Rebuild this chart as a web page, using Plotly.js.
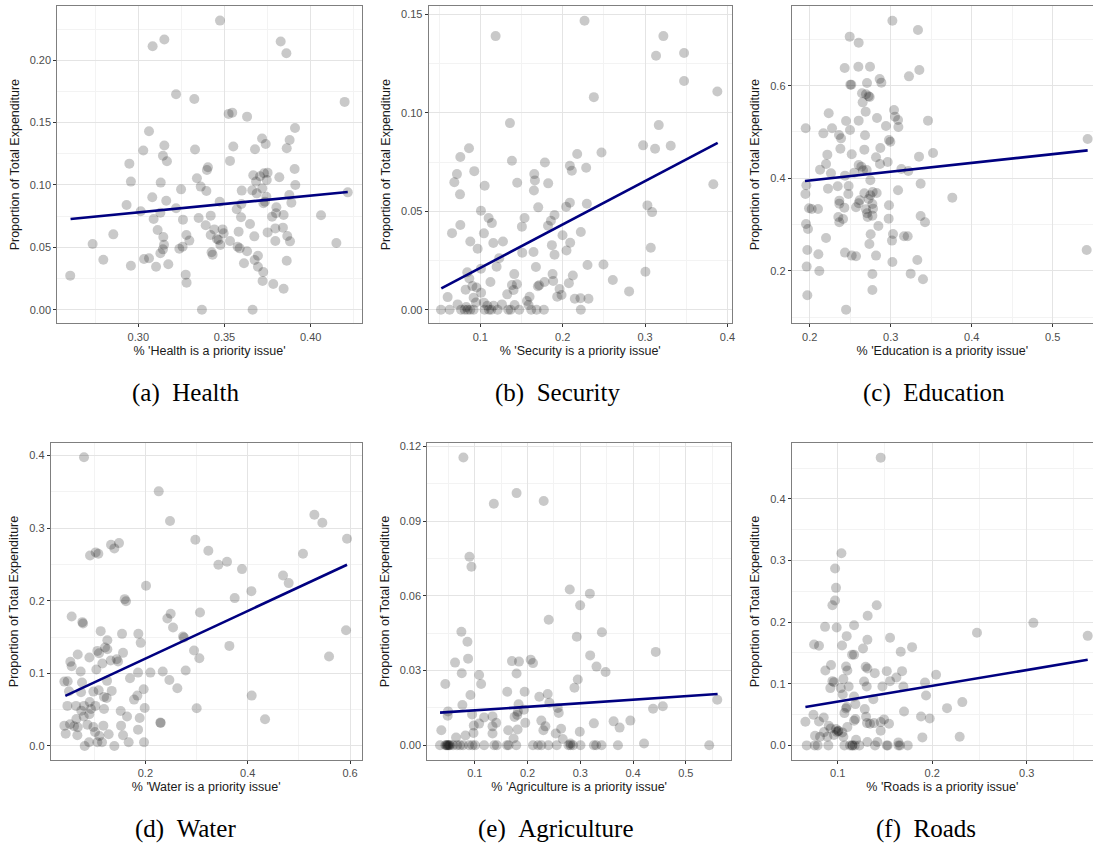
<!DOCTYPE html>
<html>
<head>
<meta charset="utf-8">
<script src="https://cdn.plot.ly/plotly-3.0.1.min.js"></script>
<style>html,body{margin:0;padding:0;background:#fff;}#chart{width:1093px;height:845px;}</style>
</head>
<body>
<div id="chart"></div>
<script>
// ---------- Health ----------
const healthX = [
0.3474,0.3083,0.3151,0.3826,0.3859,0.3219,0.3325,0.3524,0.3545,0.3631,
0.4197,0.3062,0.3909,0.3718,0.3878,0.3739,0.3151,0.3551,0.3677,0.3861,
0.3329,0.3029,0.3143,0.3166,0.3532,0.2948,0.3404,0.3398,0.3907,0.3667,
0.3706,0.3729,0.3750,0.3683,0.3745,0.3818,0.2957,0.3130,0.3340,0.3362,
0.3395,0.3248,0.3600,0.3661,0.3719,0.3911,0.3687,0.3876,0.3743,0.3735,
0.3726,0.3888,0.4215,0.2932,0.3081,0.3162,0.3472,0.3598,0.3571,0.3014,
0.3219,0.3128,0.3089,0.3259,0.3350,0.3420,0.3596,0.3776,0.3801,0.3799,
0.3843,0.4060,0.3648,0.3750,0.3795,0.3839,0.2855,0.3112,0.3279,0.3391,
0.3441,0.3489,0.3495,0.3420,0.3582,0.3864,0.3880,0.3145,0.2735,0.3149,
0.3296,0.3257,0.3238,0.3456,0.3476,0.3466,0.3532,0.3576,0.3588,0.3631,0.3673,
0.3795,0.4149,0.3143,0.3128,0.2797,0.3033,0.3062,0.2957,0.3103,0.3174,
0.3425,0.3431,0.3613,0.3675,0.3694,0.3694,0.3725,0.3721,0.3861,0.3275,
0.3280,0.3783,0.3843,0.2605,0.3369,0.3663];
const healthY = [
0.2318,0.2112,0.2166,0.2150,0.2056,0.1727,0.1690,0.1570,0.1580,0.1548,
0.1666,0.1431,0.1457,0.1372,0.1361,0.1329,0.1316,0.1308,0.1286,0.1294,
0.1284,0.1276,0.1235,0.1190,0.1193,0.1171,0.1142,0.1120,0.1128,0.1078,
0.1070,0.1094,0.1099,0.1027,0.1040,0.1062,0.1027,0.1019,0.1054,0.0987,
0.0952,0.0965,0.0955,0.0957,0.0973,0.1000,0.0933,0.0920,0.0906,0.0866,
0.0853,0.0858,0.0941,0.0840,0.0901,0.0874,0.0866,0.0848,0.0805,0.0789,
0.0813,0.0778,0.0727,0.0722,0.0735,0.0754,0.0741,0.0746,0.0821,0.0773,
0.0759,0.0757,0.0687,0.0620,0.0652,0.0658,0.0604,0.0639,0.0599,0.0677,
0.0644,0.0644,0.0612,0.0599,0.0626,0.0591,0.0548,0.0583,0.0527,0.0521,
0.0554,0.0505,0.0489,0.0567,0.0519,0.0559,0.0551,0.0505,0.0492,0.0468,0.0588,
0.0551,0.0535,0.0484,0.0452,0.0401,0.0406,0.0412,0.0353,0.0345,0.0364,
0.0460,0.0441,0.0372,0.0398,0.0433,0.0345,0.0302,0.0230,0.0393,0.0281,
0.0217,0.0206,0.0168,0.0273,0.0000,0.0000];
const healthFitX = [0.2607, 0.4215];
const healthFitY = [0.0727, 0.0944];

// ---------- Security ----------
const securityX = [
0.2265,0.1186,0.3222,0.3133,0.3473,0.3473,0.3877,0.2378,0.1360,
0.3166,0.2976,0.3121,0.3311,0.0863,0.0758,0.2471,0.2176,0.0717,0.0685,
0.0927,0.1384,0.1784,0.2087,0.2111,0.2285,0.1053,0.1448,0.1655,0.1663,
0.1651,0.1824,0.0754,0.3828,0.1008,0.1703,0.2087,0.2042,0.2293,0.3028,
0.3085,0.0657,0.0758,0.1101,0.1141,0.1044,0.1158,0.1275,0.0879,0.0968,
0.1537,0.1505,0.1822,0.1857,0.1901,0.1998,0.2091,0.2220,0.1869,0.1901,
0.2046,0.1509,0.1646,0.1675,0.1230,0.1198,0.1008,0.0842,0.3069,0.2301,
0.2495,0.3004,0.0867,0.0822,0.0905,0.0954,0.1010,0.1123,0.1412,0.1384,
0.1444,0.1404,0.1327,0.1715,0.1699,0.1780,0.1877,0.1885,0.1962,0.1986,
0.1933,0.2075,0.2123,0.2147,0.2216,0.2313,0.2608,0.2806,0.0604,0.0725,
0.0830,0.0919,0.0947,0.1044,0.1085,0.1162,0.1263,0.1586,0.1598,0.1566,0.1416,
0.0523,0.0628,0.0766,0.0810,0.0846,0.0879,0.0919,0.1053,0.1105,0.1133,
0.1210,0.1339,0.1368,0.1473,0.1618,0.1683,0.1772,0.2220];
const securityY = [
0.1468,0.1390,0.1390,0.1290,0.1304,0.1162,0.1109,0.1080,0.0948,
0.0938,0.0835,0.0818,0.0833,0.0820,0.0776,0.0799,0.0791,0.0689,0.0648,
0.0704,0.0757,0.0748,0.0731,0.0706,0.0721,0.0630,0.0645,0.0689,0.0657,
0.0606,0.0642,0.0586,0.0637,0.0503,0.0520,0.0544,0.0523,0.0538,0.0530,
0.0496,0.0389,0.0430,0.0466,0.0440,0.0388,0.0339,0.0347,0.0347,0.0310,
0.0466,0.0422,0.0427,0.0452,0.0481,0.0378,0.0340,0.0395,0.0328,0.0279,
0.0301,0.0290,0.0293,0.0217,0.0262,0.0218,0.0208,0.0190,0.0315,0.0227,
0.0230,0.0193,0.0159,0.0102,0.0120,0.0113,0.0086,0.0141,0.0181,0.0125,
0.0130,0.0100,0.0078,0.0124,0.0119,0.0141,0.0181,0.0146,0.0105,0.0075,
0.0066,0.0135,0.0174,0.0056,0.0058,0.0056,0.0151,0.0093,0.0064,0.0027,
0.0014,0.0061,0.0037,0.0036,0.0020,0.0020,0.0027,0.0024,0.0066,0.0044,0.0024,
0,0,0,0,0,0,0,0,0,0,
0,0,0,0,0,0,0,0];
const securityFitX = [0.0527, 0.3881];
const securityFitY = [0.0108, 0.0848];

// ---------- Education ----------
const educationX = [
0.3021,0.2494,0.3337,0.2605,0.2432,0.2601,0.2745,0.3354,0.3226,0.2864,
0.2885,0.2502,0.2514,0.2708,0.2646,0.2695,0.2741,0.2728,0.2654,0.2691,
0.3041,0.3053,0.3091,0.2235,0.2449,0.2605,0.2831,0.3461,0.1951,0.2276,
0.2169,0.2498,0.2942,0.3095,0.2362,0.2387,0.2683,0.2979,0.2996,0.5432,
0.2379,0.2675,0.2872,0.3523,0.3350,0.2218,0.2519,0.2819,0.2202,0.2605,
0.2638,0.2868,0.2963,0.2128,0.2263,0.2436,0.2551,0.2658,0.2704,0.3132,
0.3218,0.1959,0.2226,0.2346,0.2481,0.2477,0.2749,0.3370,0.1947,0.3091,
0.2675,0.2749,0.2778,0.2827,0.2728,0.2617,0.3761,0.2366,0.2366,0.2605,
0.2774,0.2979,0.1992,0.2103,0.2025,0.2428,0.2572,0.2695,0.2782,0.2708,
0.2774,0.2716,0.2354,0.2412,0.2366,0.3370,0.3424,0.1955,0.1979,0.2975,
0.2848,0.2202,0.2753,0.3029,0.3016,0.3165,0.3210,0.2737,0.1971,0.2107,
0.2436,0.2519,0.2572,0.2819,0.3329,0.3021,0.5420,0.1963,0.2119,0.2774,
0.3247,0.3399,0.2774,0.1971,0.2449];
const educationY = [
0.7403,0.7058,0.7201,0.6928,0.6381,0.6410,0.6410,0.6338,0.6201,0.6144,
0.6065,0.6022,0.6022,0.6058,0.5835,0.5813,0.5755,0.5770,0.5640,0.5439,
0.5475,0.5331,0.5259,0.5403,0.5237,0.5245,0.5302,0.5245,0.5079,0.5079,
0.4971,0.5043,0.5129,0.5108,0.4935,0.4863,0.4928,0.4827,0.4791,0.4849,
0.4640,0.4619,0.4655,0.4547,0.4468,0.4511,0.4518,0.4453,0.4309,0.4288,
0.4252,0.4309,0.4353,0.4187,0.4108,0.4058,0.4122,0.4173,0.4180,0.4201,
0.4158,0.3849,0.3777,0.3827,0.3835,0.3662,0.3957,0.3885,0.3662,0.3741,
0.3676,0.3633,0.3705,0.3683,0.3554,0.3525,0.3583,0.3518,0.3453,0.3460,
0.3446,0.3417,0.3353,0.3338,0.3338,0.3367,0.3374,0.3331,0.3345,0.3245,
0.3194,0.3165,0.3165,0.3122,0.3050,0.3187,0.3050,0.3014,0.2906,0.3129,
0.2971,0.2712,0.2791,0.2799,0.2655,0.2748,0.2748,0.2583,0.2453,0.2360,
0.2396,0.2331,0.2317,0.2331,0.2237,0.2194,0.2453,0.2094,0.2000,0.1935,
0.1942,0.1820,0.1590,0.1475,0.1165];
const educationFitX = [0.1942, 0.5432];
const educationFitY = [0.3942, 0.4604];

// ---------- Water ----------
const waterX = [
0.0801,0.2261,0.2482,0.5303,0.5459,0.5941,0.2977,0.0919,0.1029,0.1081,
0.1329,0.1394,0.1485,0.3231,0.3427,0.3596,0.3889,0.5081,0.4691,0.4801,
0.2013,0.3746,0.4072,0.1596,0.1622,0.0560,0.0769,0.0782,0.2495,0.2430,
0.2541,0.3068,0.2736,0.2756,0.5922,0.1127,0.1544,0.1863,0.1909,0.1257,
0.1257,0.1212,0.1062,0.1094,0.1564,0.2951,0.3642,0.5590,0.3055,0.0678,
0.0906,0.0534,0.0560,0.0736,0.1042,0.1322,0.1440,0.1466,0.1160,0.1700,
0.1857,0.2098,0.2339,0.2788,0.2469,0.2625,0.0417,0.0482,0.0762,0.0508,
0.0743,0.0984,0.1088,0.1251,0.1342,0.1192,0.1244,0.1967,0.1844,0.1779,
0.4078,0.0476,0.0645,0.0801,0.0938,0.1023,0.1192,0.1518,0.1987,0.3003,
0.4339,0.0749,0.0795,0.0906,0.0652,0.1642,0.1889,0.2293,0.0417,0.0528,
0.0606,0.0678,0.0867,0.0984,0.1179,0.1525,0.0443,0.0671,0.1016,0.1101,
0.1283,0.1564,0.1857,0.0814,0.0899,0.1062,0.1153,0.1394,0.1674,0.1974,0.0912,
0.2300];
const waterY = [
0.3977,0.3508,0.3099,0.3186,0.3076,0.2855,0.2841,0.2625,0.2667,0.2648,
0.2772,0.2722,0.2795,0.2690,0.2497,0.2538,0.2437,0.2648,0.2349,0.2244,
0.2207,0.2037,0.2133,0.2023,0.1995,0.1784,0.1706,0.1687,0.1821,0.1756,
0.1632,0.1839,0.1508,0.1494,0.1595,0.1582,0.1545,0.1545,0.1421,0.1457,
0.1333,0.1356,0.1310,0.1278,0.1283,0.1315,0.1379,0.1232,0.1209,0.1260,
0.1218,0.1159,0.1099,0.1025,0.1053,0.1177,0.1195,0.1163,0.1136,0.0933,
0.1011,0.1011,0.1025,0.1039,0.0910,0.0795,0.0887,0.0892,0.0874,0.0754,
0.0740,0.0749,0.0768,0.0897,0.0759,0.0676,0.0662,0.0782,0.0694,0.0639,
0.0694,0.0552,0.0552,0.0552,0.0510,0.0552,0.0510,0.0483,0.0524,0.0520,
0.0368,0.0487,0.0405,0.0437,0.0372,0.0405,0.0386,0.0322,0.0280,0.0299,
0.0271,0.0257,0.0294,0.0262,0.0280,0.0280,0.0170,0.0147,0.0193,0.0138,
0.0161,0.0147,0.0225,0.0000,0.0051,0.0051,0.0051,0.0000,0.0051,0.0051,0.0607,
0.0318];
const waterFitX = [0.0436, 0.5941];
const waterFitY = [0.0690, 0.2497];

// ---------- Agriculture ----------
const agricultureX = [
0.0784,0.1792,0.1361,0.2306,0.0899,0.0937,0.2800,0.3181,0.2997,0.2401,
0.0746,0.3409,0.0861,0.2933,0.4430,0.0626,0.0873,0.1704,0.1837,0.2059,
0.2103,0.3187,0.3307,0.3479,0.0753,0.1792,0.1082,0.0442,0.1120,0.2952,
0.2889,0.0918,0.1615,0.1945,0.2223,0.2382,0.2414,0.1830,0.0765,0.5596,
0.4379,0.4563,0.2591,0.2572,0.0493,0.0486,0.0949,0.1177,0.1336,0.1754,
0.1818,0.1805,0.1932,0.1406,0.1336,0.1082,0.0981,0.1957,0.2261,
0.2338,0.2300,0.3257,0.3631,0.3745,0.3948,0.0366,0.0645,0.0823,0.0975,
0.1336,0.1634,0.1811,0.1735,0.2534,0.2636,0.2667,0.2813,0.2990,0.4208,
0.0341,0.0442,0.0460,0.0475,0.0487,0.0500,0.0518,0.0530,0.0588,0.0664,
0.0721,0.0778,0.0892,0.0956,0.1006,0.1177,0.1368,0.1418,0.1609,0.1640,
0.1786,0.2103,0.2198,0.2262,0.2395,0.2553,0.2775,0.2813,0.2864,0.3003,
0.3257,0.3301,0.3403,0.3713,0.5444];
const agricultureY = [
0.1156,0.1013,0.0970,0.0981,0.0757,0.0717,0.0626,0.0609,0.0562,0.0504,
0.0456,0.0454,0.0416,0.0436,0.0375,0.0332,0.0348,0.0338,0.0336,0.0344,
0.0330,0.0361,0.0316,0.0294,0.0289,0.0288,0.0282,0.0246,0.0246,0.0264,
0.0231,0.0202,0.0215,0.0215,0.0195,0.0206,0.0171,0.0165,0.0162,0.0183,
0.0147,0.0157,0.0130,0.0150,0.0136,0.0119,0.0124,0.0112,0.0116,0.0114,
0.0135,0.0122,0.0143,0.0090,0.0076,0.0087,0.0079,0.0090,0.0099,
0.0076,0.0060,0.0088,0.0096,0.0071,0.0099,0.0060,0.0031,0.0039,0.0049,
0.0047,0.0060,0.0063,0.0027,0.0047,0.0066,0.0025,0.0007,0.0054,0.0007,
0,0,0,0,0,0,0,0,0,0,
0,0,0,0,0,0,0,0,0,0,
0,0,0,0,0,0,0,0,0,0,
0,0,0,0,0];
const agricultureFitX = [0.0341, 0.5602];
const agricultureFitY = [0.0131, 0.0206];

// ---------- Roads ----------
const roadsX = [
0.1455,0.1039,0.0972,0.0982,0.0972,0.0944,0.1413,0.1317,0.0866,0.0989,
0.1173,0.3071,0.1095,0.2474,0.3646,0.1554,0.1314,0.0750,0.0802,0.1046,
0.1787,0.1667,0.1152,0.1268,0.0929,0.0869,0.1088,0.1102,0.1296,0.1314,
0.1392,0.1519,0.1681,0.2041,0.1621,0.1554,0.1924,0.1279,0.0944,0.0961,
0.1060,0.0922,0.1032,0.1116,0.1307,0.1473,0.1695,0.1053,0.1173,0.1935,
0.1377,0.1187,0.1095,0.1088,0.2157,0.2319,0.1071,0.1286,0.0743,0.0852,
0.1702,0.1882,0.1974,0.0658,0.0802,0.0905,0.1187,0.1173,0.1300,0.1310,
0.1342,0.1384,0.1455,0.1490,0.1543,0.1455,0.0926,0.0982,0.1007,0.1102,
0.1049,0.0855,0.0760,0.0813,0.0891,0.1060,0.0961,0.1194,0.1314,0.1420,0.1896,0.2291,0.1642,
0.0672,0.0757,0.0788,0.0901,0.1071,0.1131,0.1155,0.1180,0.1229,0.1395,
0.1519,0.1529,0.1642,0.1660,0.1741,
0.1007,0.0990,0.1155,0.1173];
const roadsY = [
0.4670,0.3119,0.2870,0.2557,0.2351,0.2276,0.2276,0.2103,0.1924,0.1914,
0.1951,0.1989,0.1773,0.1827,0.1778,0.1746,0.1714,0.1638,0.1616,0.1622,
0.1595,0.1519,0.1470,0.1573,0.1303,0.1216,0.1281,0.1216,0.1276,0.1249,
0.1173,0.1205,0.1205,0.1146,0.1103,0.1043,0.1022,0.1038,0.1043,0.1027,
0.1076,0.0930,0.0930,0.0957,0.0957,0.0957,0.0957,0.0827,0.0795,0.0811,
0.0751,0.0670,0.0622,0.0600,0.0605,0.0703,0.0524,0.0589,0.0497,0.0454,
0.0551,0.0470,0.0438,0.0384,0.0389,0.0319,0.0427,0.0400,0.0465,0.0362,
0.0351,0.0362,0.0378,0.0422,0.0351,0.0238,0.0276,0.0265,0.0238,0.0297,
0.0211,0.0216,0.0157,0.0141,0.0141,0.0141,0.0168,0.0092,0.0054,0.0054,0.0130,0.0141,0.0049,
0,0,0,0,0,0,0,0,0,0,
0,0,0,0,0,
0.0230,0.0220,0.0000,0.1470];
const roadsFitX = [0.0658, 0.3646];
const roadsFitY = [0.0622, 0.1389];

// ---------- labels ----------
const xTitles = ["% 'Health is a priority issue'", "% 'Security is a priority issue'", "% 'Education is a priority issue'",
                 "% 'Water is a priority issue'", "% 'Agriculture is a priority issue'", "% 'Roads is a priority issue'"];
const yTitle = "Proportion of Total Expenditure";
const captions = ["(a)\u2002Health", "(b)\u2002Security", "(c)\u2002Education", "(d)\u2002Water", "(e)\u2002Agriculture", "(f)\u2002Roads"];

// ---------- layout geometry (pixels) ----------
const W = 1093, H = 845;
const panels = [
  {x:healthX, y:healthY, fx:healthFitX, fy:healthFitY, px:[57.3,361.7], py:[6,323.3], xr:[0.2530,0.4296], yr:[-0.0109,0.2435], xd:0.05, xm:0.025, xf:'.2f', yd:0.05, ym:0.025, yf:'.2f', right:true, cap:[185,393]},
  {x:securityX, y:securityY, fx:securityFitX, fy:securityFitY, px:[428.7,731.7], py:[6,323.3], xr:[0.0374,0.4051], yr:[-0.0069,0.1543], xd:0.1, xm:0.05, xf:'.1f', yd:0.05, ym:0.025, yf:'.2f', right:true, cap:[557,393]},
  {x:educationX, y:educationY, fx:educationFitX, fy:educationFitY, px:[791.7,1093], py:[6,323.3], xr:[0.1778,0.5498], yr:[0.087,0.772], xd:0.1, xm:0.05, xf:'.1f', yd:0.2, ym:0.1, yf:'.1f', right:false, cap:[934,393]},
  {x:waterX, y:waterY, fx:waterFitX, fy:waterFitY, px:[50.7,361.7], py:[443.3,759.7], xr:[0.0150,0.6228], yr:[-0.0189,0.4170], xd:0.2, xm:0.1, xf:'.1f', yd:0.1, ym:0.05, yf:'.1f', right:true, cap:[185,829]},
  {x:agricultureX, y:agricultureY, fx:agricultureFitX, fy:agricultureFitY, px:[427.3,731], py:[443.3,759.7], xr:[0.0100,0.5856], yr:[-0.0058,0.1213], xd:0.1, xm:0.05, xf:'.1f', yd:0.03, ym:0.015, yf:'.2f', right:true, cap:[556,829]},
  {x:roadsX, y:roadsY, fx:roadsFitX, fy:roadsFitY, px:[791.7,1093], py:[443.3,759.7], xr:[0.0513,0.3702], yr:[-0.0232,0.4903], xd:0.1, xm:0.05, xf:'.1f', yd:0.1, ym:0.05, yf:'.1f', right:false, cap:[926,829]}
];

const FONT = 'Liberation Sans, Arial, Helvetica, sans-serif';
const traces = [];
const layout = {
  width: W, height: H,
  margin: {l:0, r:0, t:0, b:0},
  paper_bgcolor: '#ffffff', plot_bgcolor: '#ffffff',
  showlegend: false,
  font: {family: FONT, size: 11, color: '#4d4d4d'},
  annotations: []
};

panels.forEach((p, i) => {
  const n = i + 1;
  const xa = 'x' + (n === 1 ? '' : n), ya = 'y' + (n === 1 ? '' : n);
  const xk = 'xaxis' + (n === 1 ? '' : n), yk = 'yaxis' + (n === 1 ? '' : n);
  traces.push({
    type: 'scatter', mode: 'markers', x: p.x, y: p.y, xaxis: xa, yaxis: ya,
    marker: {size: 10, color: 'rgba(0,0,0,0.21)', line: {width: 0}},
    hoverinfo: 'x+y'
  });
  traces.push({
    type: 'scatter', mode: 'lines', x: p.fx, y: p.fy, xaxis: xa, yaxis: ya,
    line: {color: '#000080', width: 2.6}, hoverinfo: 'skip'
  });
  const common = {
    showline: true, linecolor: '#7f7f7f', linewidth: 1,
    showgrid: true, gridcolor: '#e4e4e4', gridwidth: 1,
    zeroline: false, ticks: 'outside', ticklen: 3, tickcolor: '#333333', tickwidth: 1,
    tickfont: {family: FONT, size: 11, color: '#4d4d4d'},
    fixedrange: true
  };
  layout[xk] = Object.assign({}, common, {
    domain: [p.px[0] / W, p.px[1] / W], range: p.xr, anchor: ya,
    tick0: 0, dtick: p.xd, tickformat: p.xf, mirror: true,
    minor: {dtick: p.xm, tick0: 0, showgrid: true, gridcolor: '#f3f3f3', gridwidth: 0.6, ticks: ''},
    title: {text: xTitles[i], font: {family: FONT, size: 12.5, color: '#1a1a1a'}, standoff: 4}
  });
  layout[yk] = Object.assign({}, common, {
    domain: [1 - p.py[1] / H, 1 - p.py[0] / H], range: p.yr, anchor: xa,
    tick0: 0, dtick: p.yd, tickformat: p.yf, mirror: p.right,
    minor: {dtick: p.ym, tick0: 0, showgrid: true, gridcolor: '#f3f3f3', gridwidth: 0.6, ticks: ''},
    title: {text: yTitle, font: {family: FONT, size: 12.5, color: '#1a1a1a'}, standoff: 7}
  });
  layout.annotations.push({
    text: captions[i], xref: 'paper', yref: 'paper',
    x: p.cap[0] / W, y: 1 - p.cap[1] / H, xanchor: 'center', yanchor: 'middle',
    showarrow: false, font: {family: 'Liberation Serif, Times New Roman, serif', size: 25, color: '#000'}
  });
});

Plotly.newPlot('chart', traces, layout, {displayModeBar: false, responsive: false});
</script>
</body>
</html>
